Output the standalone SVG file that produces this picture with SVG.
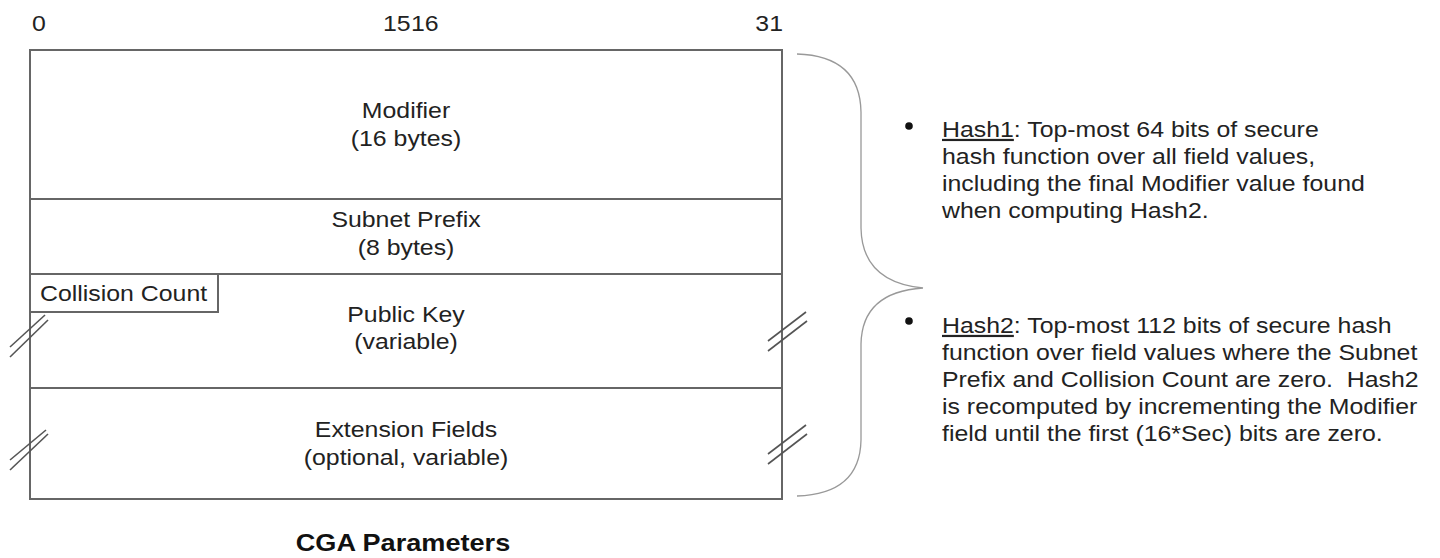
<svg xmlns="http://www.w3.org/2000/svg" width="1440" height="558" viewBox="0 0 1440 558">
<style>
  .t { font-family: "Liberation Sans", Arial, sans-serif; font-size: 22px; fill: #222; white-space: pre; }
  .m { text-anchor: middle; }
  .e { text-anchor: end; }
  .b { font-weight: bold; font-size: 24px; fill: #111; }
  .u { text-decoration: underline; }
  .box { fill: #fff; stroke: #666; stroke-width: 2; }
  .div { stroke: #666; stroke-width: 2; fill: none; }
  .brk { stroke: #555; stroke-width: 1.6; fill: none; }
  .brace { stroke: #999; stroke-width: 1.3; fill: none; }
</style>
<rect width="1440" height="558" fill="#fff"/>

<g id="bit-labels">
  <text class="t" transform="translate(32 0) scale(1.13 1)" x="0" y="31">0</text>
  <text class="t" transform="translate(383 0) scale(1.13 1)" x="0" y="31">15</text>
  <text class="t" transform="translate(411 0) scale(1.13 1)" x="0" y="31">16</text>
  <text class="t e" transform="translate(783 0) scale(1.13 1)" x="0" y="31">31</text>
</g>

<g id="frame">
  <rect class="box" x="30" y="50" width="752" height="449"/>
</g>

<g id="modifier">
  <text class="t m" transform="translate(406 0) scale(1.13 1)" x="0" y="118">Modifier</text>
  <text class="t m" transform="translate(406 0) scale(1.13 1)" x="0" y="146">(16 bytes)</text>
</g>

<g id="subnet-prefix">
  <line class="div" x1="30" y1="199" x2="782" y2="199"/>
  <text class="t m" transform="translate(406 0) scale(1.13 1)" x="0" y="227">Subnet Prefix</text>
  <text class="t m" transform="translate(406 0) scale(1.13 1)" x="0" y="255">(8 bytes)</text>
</g>

<g id="public-key">
  <line class="div" x1="30" y1="274" x2="782" y2="274"/>
  <text class="t m" transform="translate(406 0) scale(1.13 1)" x="0" y="322">Public Key</text>
  <text class="t m" transform="translate(406 0) scale(1.13 1)" x="0" y="349">(variable)</text>
  <line class="brk" x1="10" y1="347" x2="45" y2="315"/>
  <line class="brk" x1="10" y1="357" x2="48" y2="320"/>
  <line class="brk" x1="768" y1="341" x2="806" y2="312"/>
  <line class="brk" x1="768" y1="351" x2="807" y2="321"/>
</g>

<g id="collision-count">
  <rect class="box" x="30" y="274" width="188" height="38"/>
  <text class="t" transform="translate(40 0) scale(1.13 1)" x="0" y="301">Collision Count</text>
</g>

<g id="extension-fields">
  <line class="div" x1="30" y1="388" x2="782" y2="388"/>
  <text class="t m" transform="translate(406 0) scale(1.13 1)" x="0" y="437">Extension Fields</text>
  <text class="t m" transform="translate(406 0) scale(1.13 1)" x="0" y="465">(optional, variable)</text>
  <line class="brk" x1="10" y1="460" x2="46" y2="430"/>
  <line class="brk" x1="10" y1="470" x2="48" y2="434"/>
  <line class="brk" x1="768" y1="454" x2="806" y2="425"/>
  <line class="brk" x1="768" y1="464" x2="807" y2="434"/>
</g>

<g id="connectors">
  <path class="brace" d="M797,54 Q860,56 861,112 L861,228 Q862,282 923,288 Q862,292 861,344 L861,440 Q860,494 797,496"/>
</g>

<g id="hash1">
  <circle cx="909" cy="126" r="3.8" fill="#111"/>
  <text class="t" transform="translate(942 0) scale(1.13 1)" x="0" y="137"><tspan class="u">Hash1</tspan>: Top-most 64 bits of secure</text>
  <text class="t" transform="translate(942 0) scale(1.13 1)" x="0" y="164">hash function over all field values,</text>
  <text class="t" transform="translate(942 0) scale(1.13 1)" x="0" y="191">including the final Modifier value found</text>
  <text class="t" transform="translate(942 0) scale(1.13 1)" x="0" y="218">when computing Hash2.</text>
</g>

<g id="hash2">
  <circle cx="909" cy="321" r="3.8" fill="#111"/>
  <text class="t" transform="translate(942 0) scale(1.13 1)" x="0" y="333"><tspan class="u">Hash2</tspan>: Top-most 112 bits of secure hash</text>
  <text class="t" transform="translate(942 0) scale(1.13 1)" x="0" y="360">function over field values where the Subnet</text>
  <text class="t" transform="translate(942 0) scale(1.13 1)" x="0" y="387">Prefix and Collision Count are zero.&#160; Hash2</text>
  <text class="t" transform="translate(942 0) scale(1.13 1)" x="0" y="414">is recomputed by incrementing the Modifier</text>
  <text class="t" transform="translate(942 0) scale(1.13 1)" x="0" y="441">field until the first (16*Sec) bits are zero.</text>
</g>

<g id="title">
  <text class="t b m" transform="translate(403 0) scale(1.13 1)" x="0" y="551">CGA Parameters</text>
</g>
</svg>
